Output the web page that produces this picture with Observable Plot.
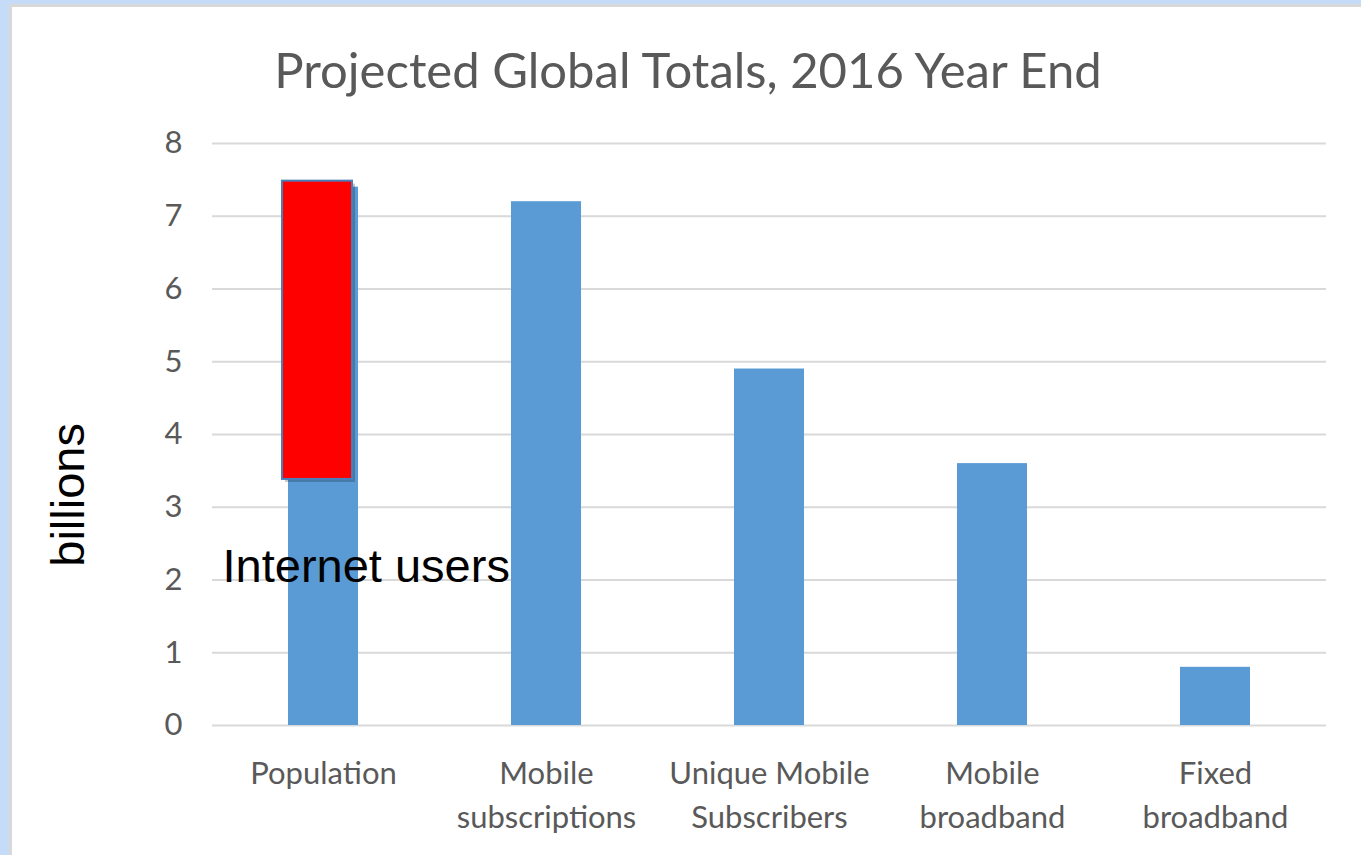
<!DOCTYPE html>
<html>
<head>
<meta charset="utf-8">
<script src="https://cdn.jsdelivr.net/npm/d3@7"></script>
<script src="https://cdn.jsdelivr.net/npm/@observablehq/plot@0.6"></script>
<style>
  html, body { margin: 0; padding: 0; }
  body { width: 1361px; height: 855px; background: #c5dbf8; position: relative; overflow: hidden; }
  #panel { position: absolute; left: 9px; top: 4px; width: 1352px; height: 851px; background: #ffffff;
           border-left: 3px solid #d8d8d8; border-top: 3px solid #d8d8d8; box-sizing: border-box; }
  #title { position: absolute; left: 0; width: 1352px; top: 38px; text-align: center;
           font-family: Lato, sans-serif; font-size: 49px; color: #595959; line-height: 1; }
  #chart { position: absolute; left: 12px; top: 105px; }
</style>
</head>
<body>
<div id="panel"><div id="title">Projected Global Totals, 2016 Year End</div></div>
<div id="chart"></div>
<script>
const categories = ["Population", "Mobile subscriptions", "Unique Mobile Subscribers", "Mobile broadband", "Fixed broadband"];
const tickLabels = ["Population", "Mobile\nsubscriptions", "Unique Mobile\nSubscribers", "Mobile\nbroadband", "Fixed\nbroadband"];
const values = [7.4, 7.2, 4.9, 3.6, 0.8];
const yTicks = [0, 1, 2, 3, 4, 5, 6, 7, 8];
const internetCategory = "Population";
const internetLow = 3.3;
const internetHigh = 7.4;
const internetLabel = "Internet users";
const internetLabelY = 2.18;
const yLabel = "billions";
const yLabelPosition = 3.17;

const data = categories.map((c, i) => ({category: c, value: values[i]}));
const internet = [{category: internetCategory, y1: internetLow, y2: internetHigh}];
const labelMap = new Map(categories.map((c, i) => [c, tickLabels[i]]));

const chart = Plot.plot({
  width: 1349,
  height: 750,
  marginTop: 38,
  marginBottom: 130,
  marginLeft: 200,
  marginRight: 35,
  style: {background: "transparent", overflow: "visible"},
  x: {domain: categories, paddingInner: 0.686, paddingOuter: 0.3408, round: false, label: null},
  y: {domain: [0, 8], label: null},
  marks: [
    Plot.gridY(yTicks, {stroke: "#d9d9d9", strokeOpacity: 1, strokeWidth: 2}),
    Plot.axisY(yTicks, {tickSize: 0, tickPadding: 30, fontSize: 31, fontFamily: "Lato, sans-serif", fill: "#595959",
                        tickFormat: d => String(d), label: null}),
    Plot.axisX({tickSize: 0, tickPadding: 28, fontSize: 31, lineHeight: 1.4, fontFamily: "Lato, sans-serif", fill: "#595959",
                tickFormat: d => labelMap.get(d), label: null}),
    Plot.barY(data, {x: "category", y: "value", fill: "#5b9bd5"}),
    Plot.barY(internet, {x: "category", y1: "y1", y2: "y2", fill: "#000000", fillOpacity: 0.22, dx: -3, dy: -3}),
    Plot.barY(internet, {x: "category", y1: "y1", y2: "y2", fill: "#ff0000", stroke: "#4a7ebb", strokeWidth: 2, dx: -6, dy: -6}),
    Plot.text(internet, {x: "category", y: () => internetLabelY, text: () => internetLabel, textAnchor: "start",
                         dx: -101, fontSize: 47, fontFamily: "'Liberation Sans', Arial, sans-serif", fill: "#000000"}),
    Plot.text([yLabel], {frameAnchor: "left", y: () => yLabelPosition, text: d => d, rotate: -90, textAnchor: "middle",
                         dx: -144, fontSize: 47, fontFamily: "'Liberation Sans', Arial, sans-serif", fill: "#000000"})
  ]
});
document.getElementById("chart").appendChild(chart);
</script>
</body>
</html>
